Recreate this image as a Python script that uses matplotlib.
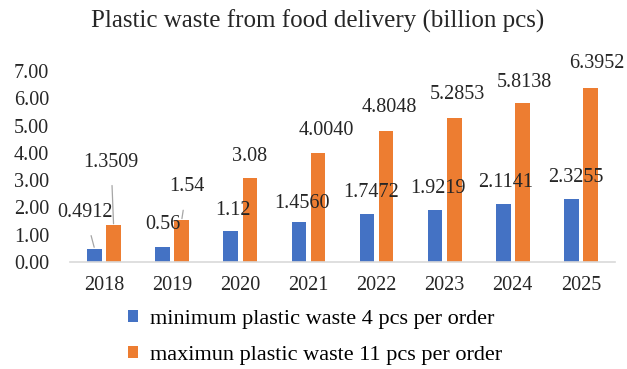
import matplotlib
matplotlib.use("Agg")
import matplotlib.pyplot as plt
import numpy as np
from matplotlib.patches import Patch

years = ["2018", "2019", "2020", "2021", "2022", "2023", "2024", "2025"]
min_waste = [0.4912, 0.56, 1.12, 1.4560, 1.7472, 1.9219, 2.1141, 2.3255]
max_waste = [1.3509, 1.54, 3.08, 4.0040, 4.8048, 5.2853, 5.8138, 6.3952]
min_labels = ["0.4912", "0.56", "1.12", "1.4560", "1.7472", "1.9219", "2.1141", "2.3255"]
max_labels = ["1.3509", "1.54", "3.08", "4.0040", "4.8048", "5.2853", "5.8138", "6.3952"]
title = "Plastic waste from food delivery (billion pcs)"
legend_labels = ["minimum plastic waste 4 pcs per order", "maximun plastic waste 11 pcs per order"]

BLUE = "#4472C4"
ORANGE = "#ED7D31"
FONT = "Liberation Serif"

# label offsets in pixels (dx, dy) from the bar top
min_off = [(-9.5, 36), (0, 22), (2, 21), (3, 19), (4, 22), (3, 21.5), (2, 22), (4, 21.5)]
max_off = [(-2.5, 63), (5, 33), (0, 21), (8, 22), (3, 23), (3, 23), (2, 21), (6, 24)]
min_leader = [True, False, False, False, False, False, False, False]
max_leader = [True, True, False, False, False, False, False, False]

plt.rcParams["font.family"] = FONT
fig = plt.figure(figsize=(6.27, 3.69), dpi=100)
ax = fig.add_axes([70 / 627, 1 - 262 / 369, 545 / 627, 191 / 369])

x = np.arange(len(years))
w = 0.215
off = 0.14
b1 = ax.bar(x - off, min_waste, w, color=BLUE, zorder=2)
b2 = ax.bar(x + off, max_waste, w, color=ORANGE, zorder=2)

ax.set_xlim(-0.5, len(years) - 0.5)
ax.set_ylim(0, 7)
ax.set_yticks(np.arange(0, 8, 1))
ax.set_yticklabels([f"{v:.2f}" for v in np.arange(0, 8, 1)])
ax.set_xticks(x)
ax.set_xticklabels(years)
ax.tick_params(axis="both", length=0, labelsize=14.5, colors="#262626")
ax.tick_params(axis="y", pad=15)
ax.tick_params(axis="x", pad=10)
for s in ["top", "right", "left"]:
    ax.spines[s].set_visible(False)
ax.spines["bottom"].set_color("#D9D9D9")
ax.spines["bottom"].set_linewidth(1.2)

px = 0.72  # points per pixel at dpi 100


def label(bars, labels, offs, leaders):
    for rect, txt, (dx, dy), ld in zip(bars, labels, offs, leaders):
        cx = rect.get_x() + rect.get_width() / 2
        top = rect.get_height()
        ax.annotate(txt, xy=(cx, top), xytext=(dx * px, dy * px),
                    textcoords="offset points", ha="center", va="center",
                    fontsize=14.5, color="#262626", annotation_clip=False,
                    arrowprops=(dict(arrowstyle="-", color="#A6A6A6", lw=0.9,
                                     shrinkA=8, shrinkB=1) if ld else None),
                    zorder=3)


label(b1, min_labels, min_off, min_leader)
label(b2, max_labels, max_off, max_leader)

fig.text(318 / 627, 1 - 21 / 369, title, ha="center", va="center",
         fontsize=18, color="#262626")

handles = [Patch(facecolor=BLUE), Patch(facecolor=ORANGE)]
fig.legend(handles, legend_labels, loc="upper left",
           bbox_to_anchor=(128 / 627, 1 - 310 / 369), frameon=False,
           fontsize=16, handlelength=0.45, handleheight=0.45,
           handletextpad=0.55, labelspacing=0.78, borderpad=0, borderaxespad=0)

fig.savefig("out.png", dpi=100)
